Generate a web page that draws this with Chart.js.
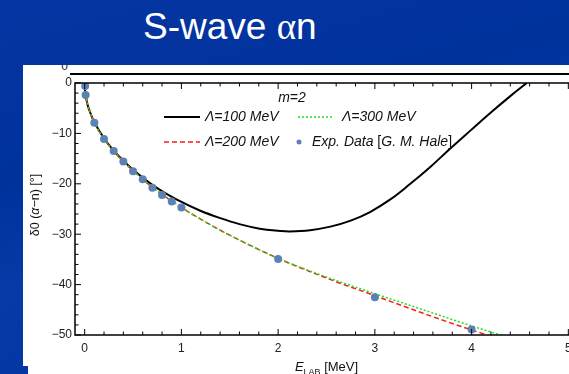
<!DOCTYPE html>
<html>
<head>
<meta charset="utf-8">
<script src="https://cdn.jsdelivr.net/npm/chart.js@4.4.1/dist/chart.umd.min.js"></script>
<style>
  html, body { margin: 0; padding: 0; width: 569px; height: 374px; overflow: hidden; }
  body {
    position: relative;
    font-family: "Liberation Sans", Arial, sans-serif;
    background: linear-gradient(165deg, #0535a2 0%, #00329c 35%, #073aa6 55%, #00339e 100%);
  }
  #title { position: absolute; left: 143px; top: 5px; color: #fff; font-size: 37px; white-space: nowrap; }
  #title .g { font-family: "Liberation Serif", serif; }
  #panel { position: absolute; left: 23px; top: 65px; width: 546px; height: 301px; background: #fff; }
  #panel2 { position: absolute; left: 28px; top: 366px; width: 541px; height: 8px; background: #fff; }
  #ghost { position: absolute; left: 70px; top: 73px; width: 499px; height: 2px; background: #000; }
  #ghost0 { position: absolute; left: 56px; top: 65px; width: 14px; height: 9px; overflow: hidden; }
  #ghost0 span { position: absolute; right: 2px; top: -6px; font-size: 12px; color: #222; }
  #wrap { position: absolute; left: 23px; top: 65px; width: 577px; height: 309px; }
</style>
</head>
<body>
<div id="title">S-wave <span class="g">α</span>n</div>
<div id="panel"></div>
<div id="panel2"></div>
<div id="ghost"></div>
<div id="ghost0"><span>0</span></div>
<div id="wrap"><canvas id="chart" width="577" height="309"></canvas></div>

<script>
// phase shift data
const expE = [0.005, 0.01, 0.1, 0.2, 0.3, 0.4, 0.5, 0.6, 0.7, 0.8, 0.9, 1.0, 2.0, 3.0, 4.0];
const expDelta = [-0.6, -2.4, -7.9, -11.1, -13.5, -15.6, -17.5, -19.1, -20.8, -22.2, -23.5, -24.7, -34.9, -42.5, -48.9];

const e100 = [0, 0.003, 0.01, 0.03, 0.06, 0.1, 0.2, 0.3, 0.4, 0.5, 0.6, 0.7, 0.8, 0.98, 1.19, 1.40, 1.60, 1.81, 2.02, 2.12, 2.33, 2.54, 2.75, 2.95, 3.16, 3.36, 3.57, 3.78, 3.99, 4.19, 4.40, 4.57];
const d100 = [0, -1.3, -2.4, -4.3, -6.0, -7.8, -11.0, -13.4, -15.4, -17.2, -18.75, -20.2, -21.45, -23.4, -25.3, -26.8, -28.0, -28.9, -29.35, -29.45, -29.2, -28.5, -27.3, -25.6, -23.1, -20.1, -16.7, -13.0, -9.4, -6.0, -2.6, 0];

const e200 = [0, 0.003, 0.01, 0.03, 0.06, 0.1, 0.2, 0.3, 0.4, 0.5, 0.6, 0.7, 0.8, 0.9, 1.0, 1.25, 1.5, 2.0, 2.5, 3.0, 3.5, 4.0, 4.16];
const d200 = [0, -1.3, -2.4, -4.3, -6.0, -7.9, -11.1, -13.5, -15.6, -17.4, -19.1, -20.7, -22.1, -23.4, -24.7, -27.6, -30.2, -34.8, -38.7, -42.2, -45.7, -49.0, -50];

const e300 = [0, 0.003, 0.01, 0.03, 0.06, 0.1, 0.2, 0.3, 0.4, 0.5, 0.6, 0.7, 0.8, 0.9, 1.0, 1.25, 1.5, 2.0, 2.5, 3.0, 3.5, 4.0, 4.3];
const d300 = [0, -1.3, -2.4, -4.3, -6.0, -7.9, -11.1, -13.5, -15.6, -17.4, -19.1, -20.7, -22.1, -23.4, -24.7, -27.6, -30.2, -34.8, -38.5, -41.8, -45.0, -48.2, -50];

const xTicks = [0, 1, 2, 3, 4, 5];
const yTicks = [-50, -40, -30, -20, -10, 0];

const pts = (xs, ys) => xs.map((x, i) => ({ x: x, y: ys[i] }));
const SANS = '"Liberation Sans", Arial, sans-serif';

// draws a run of [text, font, dy] pieces starting at x, returns end x
function drawRun(ctx, parts, x, y) {
    parts.forEach(p => {
        ctx.font = p[1];
        ctx.fillText(p[0], x, y + (p[2] || 0));
        x += ctx.measureText(p[0]).width;
    });
    return x;
}
function runWidth(ctx, parts) {
    let w = 0;
    parts.forEach(p => { ctx.font = p[1]; w += ctx.measureText(p[0]).width; });
    return w;
}

const framePlugin = {
    id: 'frame',
    afterDatasetsDraw(chart) {
        const ctx = chart.ctx;
        const ca = chart.chartArea;
        const xs = chart.scales.x, ys = chart.scales.y;
        ctx.save();
        ctx.strokeStyle = '#000';
        ctx.lineWidth = 1.5;
        ctx.strokeRect(ca.left, ca.top, ca.right - ca.left, ca.bottom - ca.top);
        ctx.lineWidth = 1;
        // ticks point inward, major + minor
        for (let k = 0; k <= 25; k++) {
            const px = xs.getPixelForValue(k / 5);
            const len = k % 5 === 0 ? 6 : 3.5;
            ctx.beginPath();
            ctx.moveTo(px, ca.bottom); ctx.lineTo(px, ca.bottom - len);
            ctx.moveTo(px, ca.top); ctx.lineTo(px, ca.top + len);
            ctx.stroke();
        }
        for (let v = -50; v <= 0; v += 2) {
            const py = ys.getPixelForValue(v);
            const len = v % 10 === 0 ? 6 : 3.5;
            ctx.beginPath();
            ctx.moveTo(ca.left, py); ctx.lineTo(ca.left + len, py);
            ctx.moveTo(ca.right, py); ctx.lineTo(ca.right - len, py);
            ctx.stroke();
        }
        ctx.restore();
    },
    afterDraw(chart) {
        const ctx = chart.ctx;
        const ca = chart.chartArea;
        ctx.save();
        ctx.fillStyle = '#111';
        ctx.textBaseline = 'middle';

        // legend
        const it = 'italic 14px ' + SANS, up = '14px ' + SANS;
        ctx.textAlign = 'center';
        ctx.font = it;
        ctx.fillText('m=2', ca.left + 217, ca.top + 15);
        ctx.textAlign = 'left';
        const r1 = ca.top + 34, r2 = ca.top + 59;
        const c1 = ca.left + 89, c2 = ca.left + 223;

        ctx.lineWidth = 2; ctx.strokeStyle = '#000'; ctx.setLineDash([]);
        ctx.beginPath(); ctx.moveTo(c1, r1); ctx.lineTo(c1 + 36, r1); ctx.stroke();
        ctx.lineWidth = 1.5; ctx.strokeStyle = '#ff1a1a'; ctx.setLineDash([5, 3]);
        ctx.beginPath(); ctx.moveTo(c1, r2); ctx.lineTo(c1 + 36, r2); ctx.stroke();
        ctx.strokeStyle = '#22e022'; ctx.setLineDash([2, 2]);
        ctx.beginPath(); ctx.moveTo(c2, r1); ctx.lineTo(c2 + 35, r1); ctx.stroke();
        ctx.setLineDash([]);
        ctx.fillStyle = '#5e81b5';
        ctx.beginPath(); ctx.arc(c2 + 1, r2, 2.5, 0, Math.PI * 2); ctx.fill();

        ctx.fillStyle = '#111';
        drawRun(ctx, [['Λ=100 MeV', it]], c1 + 41, r1);
        drawRun(ctx, [['Λ=200 MeV', it]], c1 + 41, r2);
        drawRun(ctx, [['Λ=300 MeV', it]], c2 + 44, r1);
        drawRun(ctx, [['Exp. Data ', it], ['[', up], ['G. M. Hale', it], [']', up]], c2 + 14, r2);

        // x axis title
        const xt = [['E', 'italic 13px ' + SANS], ['LAB', '9px ' + SANS, 4], [' [MeV]', '13px ' + SANS]];
        const xc = (ca.left + ca.right) / 2;
        ctx.textBaseline = 'alphabetic';
        drawRun(ctx, xt, xc - runWidth(ctx, xt) / 2, 306);

        // y axis title
        const yt = [['δ0 (', '12.5px ' + SANS], ['α', 'italic 12.5px ' + SANS], ['−n) [°]', '12.5px ' + SANS]];
        ctx.translate(16, (ca.top + ca.bottom) / 2 - 4);
        ctx.rotate(-Math.PI / 2);
        drawRun(ctx, yt, -runWidth(ctx, yt) / 2, 0);
        ctx.restore();
    }
};

new Chart(document.getElementById('chart'), {
    type: 'line',
    data: {
        datasets: [
            {
                label: 'Exp. Data [G. M. Hale]',
                data: pts(expE, expDelta),
                showLine: false,
                pointRadius: 4,
                pointBackgroundColor: '#5e81b5',
                pointBorderWidth: 0,
                order: 0
            },
            {
                label: 'Λ=300 MeV',
                data: pts(e300, d300),
                borderColor: '#22e022',
                borderWidth: 1.5,
                borderDash: [2, 2],
                pointRadius: 0,
                cubicInterpolationMode: 'monotone',
                order: 1
            },
            {
                label: 'Λ=200 MeV',
                data: pts(e200, d200),
                borderColor: '#ff1a1a',
                borderWidth: 1.5,
                borderDash: [5, 3],
                pointRadius: 0,
                cubicInterpolationMode: 'monotone',
                order: 2
            },
            {
                label: 'Λ=100 MeV',
                data: pts(e100, d100),
                borderColor: '#000',
                borderWidth: 2,
                pointRadius: 0,
                tension: 0.4,
                order: 3
            }
        ]
    },
    options: {
        responsive: false,
        animation: false,
        devicePixelRatio: 1,
        layout: { padding: { top: 18, right: 22, left: 0, bottom: 0 } },
        plugins: {
            legend: { display: false },
            tooltip: { enabled: false }
        },
        scales: {
            x: {
                type: 'linear',
                min: -0.1,
                max: 5.1,
                afterBuildTicks: s => { s.ticks = xTicks.map(v => ({ value: v })); },
                afterFit: s => { s.height = 39; },
                grid: { display: false, drawTicks: false },
                border: { display: false },
                ticks: { padding: 6, color: '#222', font: { size: 12, family: SANS }, maxRotation: 0, autoSkip: false }
            },
            y: {
                type: 'linear',
                min: -50,
                max: 0,
                afterBuildTicks: s => { s.ticks = yTicks.map(v => ({ value: v })); },
                afterFit: s => { s.width = 52; },
                grid: { display: false, drawTicks: false },
                border: { display: false },
                ticks: {
                    padding: 3,
                    color: '#222',
                    font: { size: 12, family: SANS },
                    callback: v => v < 0 ? '−' + Math.abs(v) : String(v)
                }
            }
        }
    },
    plugins: [framePlugin]
});
</script>
</body>
</html>
